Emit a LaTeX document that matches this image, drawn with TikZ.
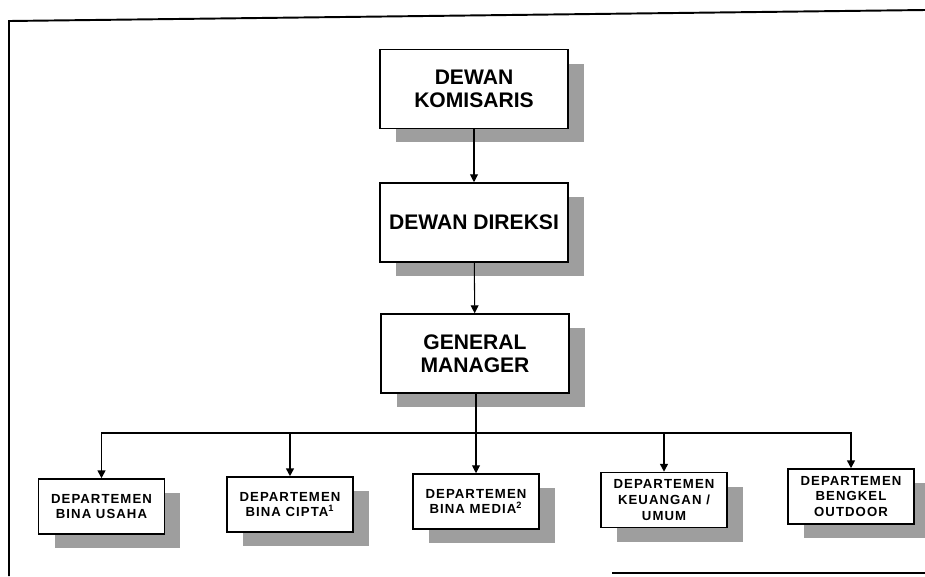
\documentclass[tikz,border=0pt]{standalone}
\usepackage{fontspec}
\setmainfont{Liberation Sans}
\newfontfamily\deptfont{Liberation Sans}[LetterSpace=8]
\usetikzlibrary{shadows,arrows.meta}
\tikzset{unit/.style={draw, line width=0.9pt, fill=white, align=center, inner sep=0pt,
  drop shadow={shadow xshift=0.32cm, shadow yshift=-0.28cm, fill=black!38, opacity=1}}}
\tikzset{board/.style={unit, minimum width=3.76cm, minimum height=1.58cm, font=\bfseries\fontsize{12}{13}\selectfont}}
\tikzset{dept/.style={unit, minimum width=2.52cm, minimum height=1.1cm, font=\deptfont\bfseries\fontsize{7.5}{9}\selectfont}}
\tikzset{link/.style={line width=0.6pt, -{Triangle[width=4.5pt,length=4.5pt]}}}

\begin{document}
\begin{tikzpicture}[x=0.02cm, y=-0.02cm]
\useasboundingbox (0,0) rectangle (925,576);
% outer frame
\draw [line width=1.1pt] (9,576) -- (9,21) -- (925,10);
\draw [line width=1.1pt] (612,573) -- (925,573);
% top of the chart
\node [board] (kom) at (474,89) {DEWAN\\KOMISARIS};
\node [board] (dir) at (474,222.5) {DEWAN DIREKSI};
\node [board] (gm) at (475,353.5) {GENERAL\\MANAGER};
% departments
\node [dept] (bu) at (101.5,506.5) {DEPARTEMEN\\BINA USAHA};
\node [dept] (bc) at (290,504.5) {DEPARTEMEN\\BINA CIPTA\textsuperscript{1}};
\node [dept] (bm) at (476,501.5) {DEPARTEMEN\\BINA MEDIA\textsuperscript{2}};
\node [dept] (ku) at (664,500) {DEPARTEMEN\\KEUANGAN /\\UMUM};
\node [dept] (bk) at (851,496.5) {DEPARTEMEN\\BENGKEL\\OUTDOOR};
\draw [link] (kom) -- (dir);
\draw [link] (dir) -- (gm);
\coordinate (bar) at (476,433);
\draw [link] (gm.south -| bm) -- (bm);
\foreach \d in {bu,bc,ku,bk}
  \draw [link, line width=0.9pt] (bar) -| (\d);
\end{tikzpicture}
\end{document}
